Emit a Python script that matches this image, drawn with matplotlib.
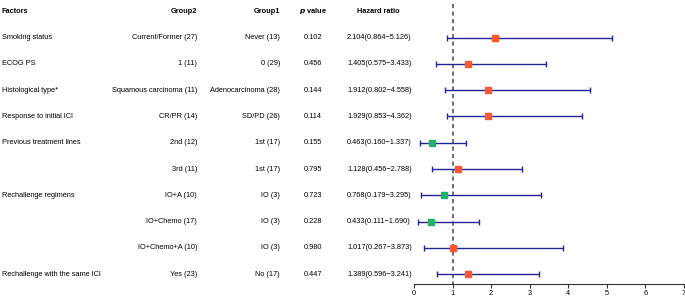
import matplotlib
matplotlib.use("Agg")
import matplotlib.pyplot as plt
import matplotlib.transforms as mtransforms

plt.rcParams['font.family'] = ['Liberation Sans', 'DejaVu Sans']

factors = ["Smoking status", "ECOG PS", "Histological type*", "Response to initial ICI",
           "Previous treatment lines", "", "Rechallenge regimens", "", "",
           "Rechallenge with the same ICI"]
group2 = ["Current/Former (27)", "1 (11)", "Squamous carcinoma (11)", "CR/PR (14)",
          "2nd (12)", "3rd (11)", "IO+A (10)", "IO+Chemo (17)", "IO+Chemo+A (10)", "Yes (23)"]
group1 = ["Never (13)", "0 (29)", "Adenocarcinoma (28)", "SD/PD (26)",
          "1st (17)", "1st (17)", "IO (3)", "IO (3)", "IO (3)", "No (17)"]
p_values = ["0.102", "0.456", "0.144", "0.114", "0.155", "0.795", "0.723", "0.228", "0.980", "0.447"]
hr = [2.104, 1.405, 1.912, 1.929, 0.463, 1.128, 0.768, 0.433, 1.017, 1.389]
lower = [0.864, 0.575, 0.802, 0.853, 0.160, 0.456, 0.179, 0.111, 0.267, 0.596]
upper = [5.126, 3.433, 4.558, 4.362, 1.337, 2.788, 3.295, 1.690, 3.873, 3.241]

W, H = 685, 297
fig = plt.figure(figsize=(W / 100, H / 100), dpi=100)
ax = fig.add_axes([414 / W, 1 - 284 / H, 270 / W, 284 / H])

rows = list(range(len(hr)))
fs = 5.3
blue = "#23239a"

for i in rows:
    ax.errorbar(hr[i], i, xerr=[[hr[i] - lower[i]], [upper[i] - hr[i]]], fmt="none",
                ecolor=blue, elinewidth=1.0, capsize=2.2, capthick=1.0, zorder=2)
    col = "#ff5533" if hr[i] >= 1 else "#22b06a"
    ax.plot(hr[i], i, marker="s", color=col, markersize=3.8, linestyle="none", zorder=3)

# reference line at HR = 1
ax.plot([1, 1], [-1.28, 9.37], color="#555555", linestyle=(0, (2.5, 2)), linewidth=1.2, zorder=1)

ax.set_xlim(0, 7)
ax.set_ylim(9.37, -1.43)
ax.set_xticks(range(8))
ax.tick_params(axis="x", labelsize=fs, length=3, width=0.8, pad=1, color="#333333")
ax.set_yticks([])
for s in ["top", "right", "left"]:
    ax.spines[s].set_visible(False)
ax.spines["bottom"].set_color("#333333")
ax.spines["bottom"].set_linewidth(0.8)
ax.patch.set_alpha(0)

tr = mtransforms.blended_transform_factory(fig.transFigure, ax.transData)

def px(x):
    return x / W

hy = -1
ax.text(px(2), hy, "Factors", transform=tr, fontsize=fs, fontweight="bold", ha="left", va="center")
ax.text(px(197), hy, "Group2", transform=tr, fontsize=fs, fontweight="bold", ha="right", va="center")
ax.text(px(280), hy, "Group1", transform=tr, fontsize=fs, fontweight="bold", ha="right", va="center")
ax.text(px(313), hy, r"$\bfit{p}$ value", transform=tr, fontsize=fs, fontweight="bold", ha="center", va="center")
ax.text(px(357), hy, "Hazard ratio", transform=tr, fontsize=fs, fontweight="bold", ha="left", va="center")

for i in rows:
    ax.text(px(2), i, factors[i], transform=tr, fontsize=fs, ha="left", va="center")
    ax.text(px(197), i, group2[i], transform=tr, fontsize=fs, ha="right", va="center")
    ax.text(px(280), i, group1[i], transform=tr, fontsize=fs, ha="right", va="center")
    ax.text(px(313), i, p_values[i], transform=tr, fontsize=fs, ha="center", va="center")
    ax.text(px(347), i, "%.3f(%.3f\u2212%.3f)" % (hr[i], lower[i], upper[i]),
            transform=tr, fontsize=fs, ha="left", va="center")

fig.savefig("out.png", dpi=100)
